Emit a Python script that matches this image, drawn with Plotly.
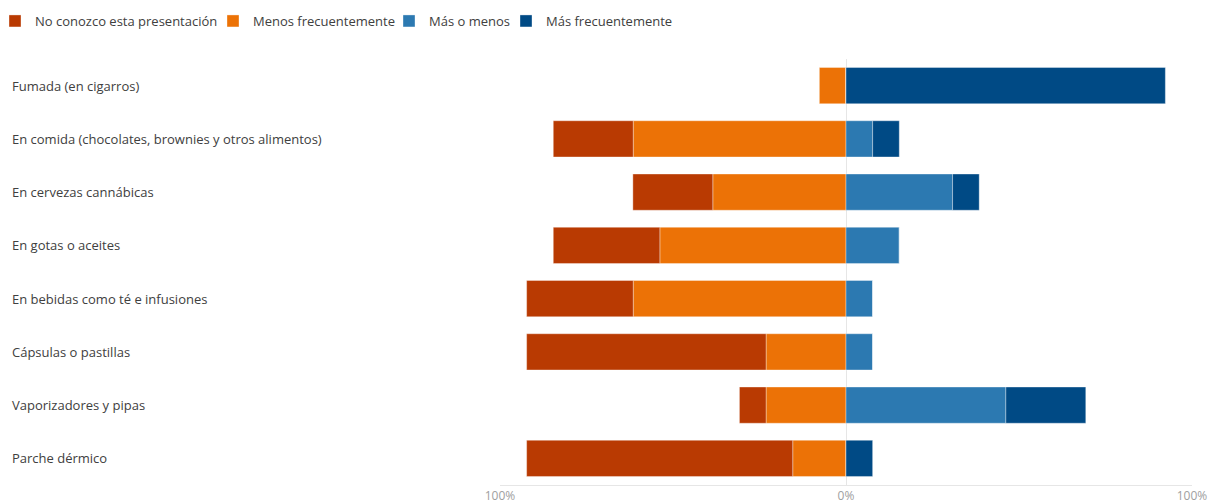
import plotly.graph_objects as go

categories = [
    "Fumada (en cigarros)",
    "En comida (chocolates, brownies y otros alimentos)",
    "En cervezas cannábicas",
    "En gotas o aceites",
    "En bebidas como té e infusiones",
    "Cápsulas o pastillas",
    "Vaporizadores y pipas",
    "Parche dérmico",
]
no_conozco = [0, 23.1, 23.1, 30.8, 30.8, 69.2, 7.7, 76.9]
menos_frec = [7.7, 61.5, 38.5, 53.8, 61.5, 23.1, 23.1, 15.4]
mas_o_menos = [0, 7.7, 30.8, 15.4, 7.7, 7.7, 46.2, 0]
mas_frec = [92.3, 7.7, 7.7, 0, 0, 0, 23.1, 7.7]

tick_vals = [-100, 0, 100]
tick_text = ["100%", "0%", "100%"]

colors = {
    "No conozco esta presentación": "#B93A02",
    "Menos frecuentemente": "#EC7206",
    "Más o menos": "#2C79B1",
    "Más frecuentemente": "#004A85",
}

L, R, T, B = 500, 16, 59, 17
plot_w = 1208 - L - R

line = dict(color="rgba(255,255,255,0.35)", width=1)
fig = go.Figure()
fig.add_bar(y=categories, x=[-v for v in menos_frec], name="Menos frecuentemente",
            orientation="h", marker=dict(color=colors["Menos frecuentemente"], line=line),
            legend="legend2", customdata=menos_frec, hovertemplate="%{customdata}%<extra></extra>")
fig.add_bar(y=categories, x=[-v for v in no_conozco], name="No conozco esta presentación",
            orientation="h", marker=dict(color=colors["No conozco esta presentación"], line=line),
            legend="legend", customdata=no_conozco, hovertemplate="%{customdata}%<extra></extra>")
fig.add_bar(y=categories, x=mas_o_menos, name="Más o menos",
            orientation="h", marker=dict(color=colors["Más o menos"], line=line),
            legend="legend3")
fig.add_bar(y=categories, x=mas_frec, name="Más frecuentemente",
            orientation="h", marker=dict(color=colors["Más frecuentemente"], line=line),
            legend="legend4")

for c in categories:
    fig.add_annotation(x=-(L - 10) / plot_w, xref="paper", y=c, yref="y", text=c,
                       showarrow=False, xanchor="left", yanchor="middle",
                       font=dict(size=13, color="#404040"))

def leg(px):
    return dict(orientation="h", x=(px - L) / plot_w, xanchor="left",
                y=1 - 6 / 502, yref="container", yanchor="top",
                font=dict(size=13, color="#404040"), bgcolor="rgba(0,0,0,0)")

fig.update_layout(
    width=1208, height=502,
    margin=dict(l=L, r=R, t=T, b=B, autoexpand=False),
    barmode="relative",
    bargap=0.32,
    paper_bgcolor="white", plot_bgcolor="white",
    font=dict(family="Open Sans, Noto Sans, sans-serif", size=13, color="#404040"),
    legend=leg(12 - 17),
    legend2=leg(230 - 17),
    legend3=leg(406 - 17),
    legend4=leg(523 - 17),
    xaxis=dict(range=[-100, 100], tickvals=tick_vals, ticktext=tick_text,
               showgrid=True, gridcolor="#E6E6E6", gridwidth=1,
               zeroline=True, zerolinecolor="#E6E6E6", zerolinewidth=1,
               showline=True, linecolor="#E6E6E6", linewidth=1,
               tickfont=dict(size=12, color="#A0A0A0"), ticks="", automargin=False),
    yaxis=dict(autorange="reversed", showticklabels=False, showgrid=False,
               automargin=False),
    showlegend=True,
)

fig.write_html("out.html")
